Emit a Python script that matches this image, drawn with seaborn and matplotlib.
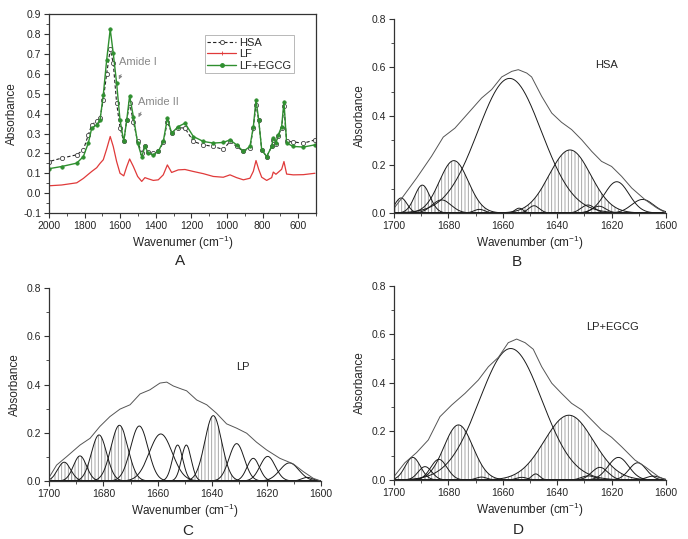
import numpy as np
import pandas as pd
import matplotlib
matplotlib.use("Agg")
import matplotlib.pyplot as plt
from matplotlib.lines import Line2D
from matplotlib.ticker import MultipleLocator, FormatStrFormatter
import seaborn as sns

# ---- panel A: FTIR spectra ----
wn = [2000, 1929, 1844, 1807, 1779, 1760, 1732, 1713, 1695, 1676, 1656, 1639, 1620,
      1601, 1580, 1563, 1547, 1526, 1502, 1479, 1461, 1442, 1414, 1386, 1358, 1335,
      1311, 1274, 1236, 1189, 1133, 1077, 1021, 983, 946, 908, 871, 852, 837, 822,
      805, 777, 749, 740, 725, 712, 693, 680, 665, 628, 571, 506]
hsa = [0.159, 0.176, 0.193, 0.218, 0.293, 0.344, 0.362, 0.380, 0.470, 0.600, 0.724,
       0.654, 0.453, 0.330, 0.260, 0.369, 0.453, 0.360, 0.260, 0.200, 0.235, 0.205,
       0.200, 0.210, 0.255, 0.360, 0.302, 0.330, 0.327, 0.260, 0.243, 0.235, 0.220,
       0.260, 0.235, 0.210, 0.226, 0.330, 0.444, 0.369, 0.218, 0.184, 0.235, 0.268,
       0.245, 0.288, 0.330, 0.436, 0.260, 0.258, 0.251, 0.268]
lf = [0.037, 0.041, 0.052, 0.074, 0.095, 0.109, 0.128, 0.150, 0.168, 0.222, 0.285,
      0.235, 0.159, 0.100, 0.087, 0.134, 0.172, 0.134, 0.084, 0.059, 0.078, 0.072,
      0.064, 0.067, 0.092, 0.142, 0.104, 0.117, 0.119, 0.109, 0.098, 0.084, 0.080,
      0.092, 0.078, 0.067, 0.075, 0.110, 0.164, 0.120, 0.080, 0.064, 0.078, 0.106,
      0.095, 0.105, 0.120, 0.159, 0.096, 0.092, 0.093, 0.100]
lf_egcg = [0.123, 0.134, 0.151, 0.184, 0.252, 0.327, 0.344, 0.369, 0.494, 0.670, 0.825,
           0.704, 0.553, 0.369, 0.260, 0.369, 0.490, 0.385, 0.252, 0.184, 0.235, 0.200,
           0.193, 0.210, 0.260, 0.377, 0.302, 0.335, 0.352, 0.285, 0.260, 0.252, 0.255,
           0.268, 0.243, 0.210, 0.235, 0.335, 0.469, 0.369, 0.218, 0.184, 0.235, 0.277,
           0.252, 0.293, 0.335, 0.461, 0.252, 0.235, 0.232, 0.243]

# ---- panel B: HSA amide I band fit ----
b_center = [1697.4, 1689.6, 1682.5, 1678.0, 1668.6, 1657.5, 1654.0, 1648.5, 1635.3,
            1628.7, 1624.6, 1618.1, 1608.6]
b_height = [0.062, 0.115, 0.054, 0.216, 0.015, 0.555, 0.020, 0.030, 0.260,
            0.033, 0.028, 0.129, 0.056]
b_sigma = [2.2, 2.8, 3.5, 5.3, 2.0, 11.7, 1.5, 2.0, 7.6, 2.5, 2.5, 4.5, 4.0]
b_hatch = [True, True, False, True, False, False, False, False, True,
           False, False, False, False]
b_env_x = [1700, 1696.6, 1691.7, 1686.2, 1681.9, 1677.6, 1672.7, 1667.8, 1664.1,
           1660.4, 1656.7, 1654.3, 1651.2, 1649.4, 1645.7, 1642.0, 1638.4, 1634.7,
           1631.0, 1627.3, 1623.7, 1620.0, 1616.3, 1612.6, 1607.7, 1603.4, 1600]
b_env_y = [0.020, 0.069, 0.144, 0.234, 0.313, 0.350, 0.412, 0.474, 0.509, 0.561,
           0.584, 0.591, 0.577, 0.561, 0.481, 0.412, 0.374, 0.344, 0.302, 0.254,
           0.213, 0.192, 0.151, 0.103, 0.055, 0.021, 0.0]

# ---- panel C: LP ----
c_center = [1694.4, 1688.6, 1681.6, 1674.1, 1666.8, 1658.9, 1652.7, 1649.5, 1639.6,
            1631.0, 1624.9, 1619.6, 1611.6, 1605.0]
c_height = [0.078, 0.104, 0.191, 0.231, 0.228, 0.195, 0.149, 0.149, 0.271,
            0.155, 0.094, 0.102, 0.075, 0.015]
c_sigma = [2.4, 2.4, 2.8, 3.1, 3.2, 4.2, 1.9, 1.8, 3.1, 2.8, 2.3, 2.8, 3.5, 2.0]
c_hatch = [True, True, True, True, False, False, False, False, True,
           False, False, False, False, False]
c_env_x = [1700, 1697.2, 1693.5, 1688.6, 1684.9, 1681.3, 1677.6, 1673.9, 1670.2,
           1666.5, 1662.9, 1659.2, 1656.7, 1654.3, 1651.2, 1649.4, 1645.7, 1642.0,
           1638.4, 1634.7, 1631.0, 1627.3, 1623.7, 1620.0, 1615.1, 1610.2, 1606.5,
           1602.8, 1600]
c_env_y = [0.014, 0.066, 0.101, 0.149, 0.177, 0.226, 0.267, 0.298, 0.316, 0.361,
           0.378, 0.406, 0.410, 0.394, 0.381, 0.374, 0.336, 0.316, 0.281, 0.237,
           0.219, 0.198, 0.161, 0.129, 0.094, 0.071, 0.039, 0.011, 0.0]

# ---- panel D: LP+EGCG ----
d_center = [1693.1, 1688.6, 1683.5, 1676.3, 1667.8, 1657.1, 1653.0, 1647.9, 1635.7,
            1628.6, 1624.3, 1617.5, 1610.4, 1604.7]
d_height = [0.093, 0.055, 0.085, 0.227, 0.012, 0.542, 0.011, 0.025, 0.267,
            0.017, 0.052, 0.093, 0.071, 0.016]
d_sigma = [2.8, 2.5, 3.0, 5.3, 2.0, 11.5, 2.0, 1.5, 9.0, 2.5, 3.0, 3.8, 3.2, 2.5]
d_hatch = [True, False, False, True, False, False, False, False, True,
           False, False, False, False, False]
d_env_x = [1700, 1696.0, 1691.7, 1687.4, 1683.1, 1678.8, 1673.9, 1669.0, 1665.3,
           1661.6, 1658.0, 1654.9, 1651.8, 1648.8, 1645.7, 1642.0, 1638.4, 1634.7,
           1631.0, 1627.3, 1623.7, 1620.0, 1616.3, 1611.4, 1607.7, 1602.8, 1600]
d_env_y = [0.014, 0.071, 0.113, 0.165, 0.261, 0.309, 0.357, 0.412, 0.467, 0.506,
           0.566, 0.581, 0.566, 0.539, 0.467, 0.399, 0.357, 0.316, 0.289, 0.247,
           0.206, 0.176, 0.137, 0.082, 0.055, 0.014, 0.0]

sns.set_style("ticks")
plt.rcParams['font.family'] = ['Liberation Sans', 'DejaVu Sans']
plt.rcParams['hatch.linewidth'] = 0.6
plt.rcParams['mathtext.default'] = 'regular'

fig = plt.figure(figsize=(6.88, 5.39), dpi=100)
axA = fig.add_axes([0.0712, 0.6048, 0.3881, 0.3687])
axB = fig.add_axes([0.5727, 0.6048, 0.3953, 0.3600])
axC = fig.add_axes([0.0712, 0.1076, 0.3953, 0.3580])
axD = fig.add_axes([0.5727, 0.1095, 0.3953, 0.3600])

red = '#e03a3a'
green = '#2f8f2f'

# panel A
sns.lineplot(x=wn, y=hsa, ax=axA, color='#222222', linestyle=(0, (3, 2)), lw=0.8,
             marker='o', markersize=3, markerfacecolor='white',
             markeredgecolor='#444444', markeredgewidth=0.6)
sns.lineplot(x=wn, y=lf, ax=axA, color=red, lw=0.9)
sns.lineplot(x=wn, y=lf_egcg, ax=axA, color=green, lw=1.0,
             marker='o', markersize=2.5, markerfacecolor=green,
             markeredgecolor=green, markeredgewidth=0.5)
axA.set_xlim(2000, 500)
axA.set_ylim(-0.1, 0.9)
axA.xaxis.set_major_locator(MultipleLocator(200))
axA.xaxis.set_minor_locator(MultipleLocator(100))
axA.yaxis.set_major_locator(MultipleLocator(0.1))
axA.yaxis.set_minor_locator(MultipleLocator(0.05))
axA.yaxis.set_major_formatter(FormatStrFormatter('%.1f'))
axA.set_xlabel('Wavenumer (cm$^{-1}$)', fontsize=8.5, labelpad=2)
axA.set_ylabel('Absorbance', fontsize=8.5, labelpad=4)
axA.text(1607, 0.66, 'Amide I', color='#888888', fontsize=8, va='center')
axA.annotate('', xy=(1614, 0.56), xytext=(1588, 0.61),
             arrowprops=dict(arrowstyle='-|>', color='#888888', lw=0.6, mutation_scale=5))
axA.text(1498, 0.46, 'Amide II', color='#888888', fontsize=8, va='center')
axA.annotate('', xy=(1504, 0.37), xytext=(1476, 0.42),
             arrowprops=dict(arrowstyle='-|>', color='#888888', lw=0.6, mutation_scale=5))
handles = [
    Line2D([], [], color='#222222', linestyle=(0, (3, 2)), lw=0.8, marker='o',
           markersize=3, markerfacecolor='white', markeredgecolor='#444444',
           markeredgewidth=0.6),
    Line2D([], [], color=red, lw=0.9, marker='|', markersize=3, markeredgewidth=0.6),
    Line2D([], [], color=green, lw=1.0, marker='o', markersize=2.5),
]
leg = axA.legend(handles, ['HSA', 'LF', 'LF+EGCG'], loc='upper left',
                 bbox_to_anchor=(0.584, 0.894), fontsize=8, frameon=True,
                 fancybox=False, handlelength=2.6, handletextpad=0.3,
                 borderpad=0.2, labelspacing=0.15, borderaxespad=0)
leg.get_frame().set_edgecolor('#999999')
leg.get_frame().set_linewidth(0.6)
for s in axA.spines.values():
    s.set_color('#333333')
    s.set_linewidth(0.9)

grid = np.linspace(1600, 1700, 801)


def fit_panel(ax, centers, heights, sigmas, hatched, env_x, env_y, title, tx, ty):
    for c, h, s, hat in zip(centers, heights, sigmas, hatched):
        g = h * np.exp(-(grid - c) ** 2 / (2 * s ** 2))
        if hat:
            ax.fill_between(grid, 0, g, facecolor='none', edgecolor='#9a9a9a',
                            hatch='|||||', linewidth=0)
        sns.lineplot(x=grid, y=g, ax=ax, color='#1a1a1a', lw=0.7)
    sns.lineplot(x=env_x, y=env_y, ax=ax, color='#555555', lw=0.7)
    ax.set_xlim(1700, 1600)
    ax.set_ylim(0, 0.8)
    ax.xaxis.set_major_locator(MultipleLocator(20))
    ax.xaxis.set_minor_locator(MultipleLocator(10))
    ax.yaxis.set_major_locator(MultipleLocator(0.2))
    ax.yaxis.set_minor_locator(MultipleLocator(0.1))
    ax.yaxis.set_major_formatter(FormatStrFormatter('%.1f'))
    ax.set_xlabel('Wavenumber (cm$^{-1}$)', fontsize=8.5, labelpad=2)
    ax.set_ylabel('Absorbance', fontsize=8.5, labelpad=4)
    ax.text(tx, ty, title, fontsize=8, ha='center', va='center')
    sns.despine(ax=ax)
    for k in ['left', 'bottom']:
        ax.spines[k].set_color('#333333')
        ax.spines[k].set_linewidth(0.9)


fit_panel(axB, b_center, b_height, b_sigma, b_hatch, b_env_x, b_env_y, 'HSA', 1621.8, 0.612)
fit_panel(axC, c_center, c_height, c_sigma, c_hatch, c_env_x, c_env_y, 'LP', 1628.7, 0.474)
fit_panel(axD, d_center, d_height, d_sigma, d_hatch, d_env_x, d_env_y, 'LP+EGCG', 1619.5, 0.63)

for ax in [axA, axB, axC, axD]:
    ax.tick_params(axis='both', which='major', direction='out', length=3.5,
                   width=0.8, labelsize=7.5, pad=2, color='#333333')
    ax.tick_params(axis='both', which='minor', direction='out', length=2,
                   width=0.6, color='#333333')

fig.text(180 / 688, 1 - 261 / 539, 'A', fontsize=11, ha='center', va='center')
fig.text(517 / 688, 1 - 262 / 539, 'B', fontsize=11, ha='center', va='center')
fig.text(188 / 688, 1 - 531 / 539, 'C', fontsize=11, ha='center', va='center')
fig.text(518 / 688, 1 - 530 / 539, 'D', fontsize=11, ha='center', va='center')

fig.savefig('out.png', dpi=100)
